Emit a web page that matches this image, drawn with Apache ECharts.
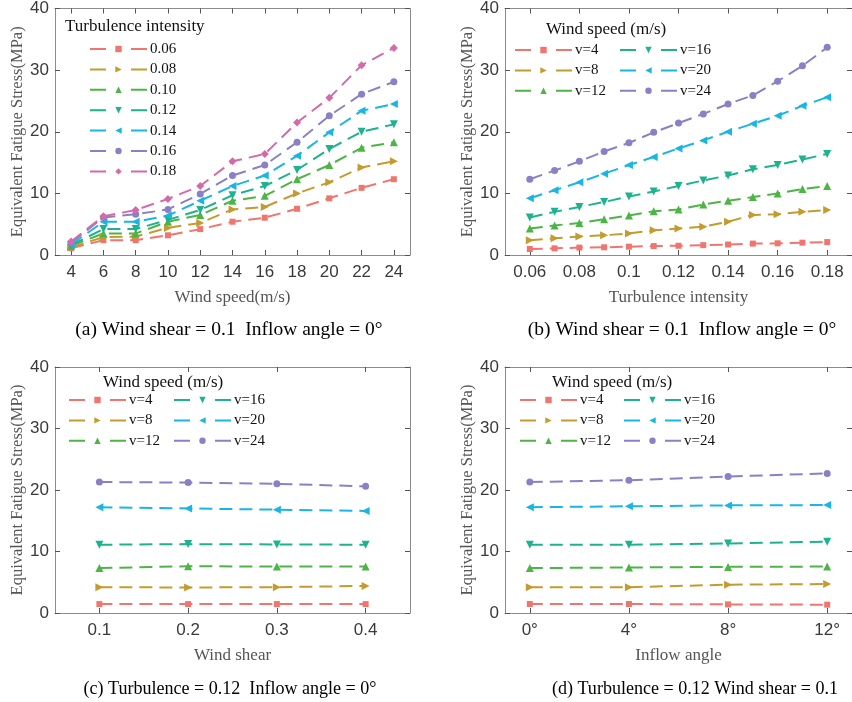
<!DOCTYPE html>
<html><head><meta charset="utf-8">
<script src="https://cdn.jsdelivr.net/npm/echarts@6/dist/echarts.min.js"></script>
<style>html,body{margin:0;padding:0;background:#fff}#c{width:852px;height:702px}</style>
</head><body><div id="c"></div>
<script>
// ---------- data ----------
const windSpeeds = [4, 6, 8, 10, 12, 14, 16, 18, 20, 22, 24];
const tiNames = ['0.06', '0.08', '0.10', '0.12', '0.14', '0.16', '0.18'];
const aTI006 = [1.1, 2.4, 2.4, 3.2, 4.2, 5.4, 6.05, 7.5, 9.2, 10.9, 12.3];
const aTI008 = [1.25, 2.9, 3.0, 4.4, 5.2, 7.4, 7.8, 10.0, 11.8, 14.2, 15.2];
const aTI010 = [1.5, 3.5, 3.5, 5.4, 6.5, 8.8, 9.6, 12.3, 14.6, 17.4, 18.3];
const aTI012 = [1.6, 4.2, 4.2, 5.7, 7.3, 9.7, 11.2, 13.8, 17.2, 20.0, 21.2];
const aTI014 = [1.7, 5.4, 5.4, 6.4, 8.8, 11.2, 12.9, 16.1, 19.9, 23.4, 24.5];
const aTI016 = [2.0, 6.1, 6.6, 7.4, 9.9, 12.9, 14.6, 18.3, 22.6, 26.1, 28.1];
const aTI018 = [2.2, 6.3, 7.3, 9.1, 11.2, 15.2, 16.4, 21.5, 25.5, 30.8, 33.6];

const turbulence = [0.06, 0.07, 0.08, 0.09, 0.10, 0.11, 0.12, 0.13, 0.14, 0.15, 0.16, 0.17, 0.18];
const vNames = ['v=4', 'v=8', 'v=12', 'v=16', 'v=20', 'v=24'];
const bV4  = [0.97, 1.08, 1.2, 1.25, 1.35, 1.45, 1.5, 1.6, 1.7, 1.85, 1.9, 2.0, 2.1];
const bV8  = [2.4, 2.7, 3.0, 3.2, 3.5, 4.0, 4.3, 4.6, 5.4, 6.5, 6.6, 7.0, 7.3];
const bV12 = [4.3, 4.8, 5.2, 5.8, 6.4, 7.1, 7.4, 8.2, 8.8, 9.4, 10.0, 10.7, 11.2];
const bV16 = [6.1, 7.0, 7.8, 8.6, 9.5, 10.3, 11.2, 12.1, 12.9, 13.9, 14.6, 15.5, 16.4];
const bV20 = [9.2, 10.5, 11.8, 13.2, 14.6, 15.9, 17.3, 18.6, 20.0, 21.3, 22.6, 24.2, 25.6];
const bV24 = [12.3, 13.7, 15.2, 16.8, 18.2, 19.9, 21.4, 22.9, 24.5, 25.9, 28.2, 30.7, 33.7];

const windShear = [0.1, 0.2, 0.3, 0.4];
const cV4  = [1.45, 1.45, 1.45, 1.45];
const cV8  = [4.2, 4.15, 4.2, 4.4];
const cV12 = [7.3, 7.6, 7.55, 7.55];
const cV16 = [11.1, 11.2, 11.15, 11.1];
const cV20 = [17.2, 17.0, 16.8, 16.6];
const cV24 = [21.3, 21.2, 21.0, 20.6];

const inflowAngle = [0, 4, 8, 12];
const dV4  = [1.46, 1.46, 1.4, 1.35];
const dV8  = [4.2, 4.2, 4.6, 4.7];
const dV12 = [7.3, 7.4, 7.5, 7.55];
const dV16 = [11.1, 11.1, 11.3, 11.6];
const dV20 = [17.2, 17.35, 17.5, 17.55];
const dV24 = [21.3, 21.6, 22.2, 22.7];

const yTicks = [0, 10, 20, 30, 40];
const xTicksA = [4, 6, 8, 10, 12, 14, 16, 18, 20, 22, 24];
const xTicksB = [0.06, 0.08, 0.10, 0.12, 0.14, 0.16, 0.18];
const xTicksC = [0.1, 0.2, 0.3, 0.4];
const xTicksD = [0, 4, 8, 12];

// ---------- styles ----------
const colors7 = ['#F0756F', '#C39B2E', '#4DB445', '#1DB38F', '#19B5E5', '#8A80C5', '#D36BAA'];
const symbols7 = [['rect', 0, 6], ['triangle', -90, 8], ['triangle', 0, 8], ['triangle', 180, 8], ['triangle', 90, 8], ['circle', 0, 7], ['diamond', 0, 8]];
const SERIF = '"Liberation Serif","Times New Roman",serif';
const SANS = '"Liberation Sans",Arial,Helvetica,sans-serif';
const AX = '#8c8c8c';

const grids = [
  {left: 55, top: 8, width: 355, height: 247},
  {left: 505, top: 8, width: 356, height: 247},
  {left: 55, top: 367, width: 355, height: 246},
  {left: 505, top: 367, width: 356, height: 246}
];
const xRanges = [[3, 25], [0.05, 0.19], [0.05, 0.45], [-1, 13]];
const xTickSets = [xTicksA, xTicksB, xTicksC, xTicksD];
const xNames = ['Wind speed(m/s)', 'Turbulence intensity', 'Wind shear', 'Inflow angle'];
const xFmt = [v => String(v), v => String(+v.toFixed(2)), v => String(+v.toFixed(1)), v => v + '°'];

const xAxes = [], yAxes = [], series = [];
grids.forEach((g, i) => {
  xAxes.push({
    type: 'value', gridIndex: i, position: 'bottom', min: xRanges[i][0], max: xRanges[i][1],
    name: xNames[i], nameLocation: 'middle', nameGap: 34,
    nameTextStyle: {fontFamily: SERIF, fontSize: 17, color: '#555'},
    axisLine: {show: true, onZero: false, lineStyle: {color: AX}},
    axisTick: {show: true, inside: true, length: 5, lineStyle: {color: '#555'}, customValues: xTickSets[i]},
    axisLabel: {show: true, margin: 9, fontFamily: SANS, fontSize: 17, color: '#3a3a3a', customValues: xTickSets[i], formatter: xFmt[i]},
    splitLine: {show: false}
  });
  xAxes.push({
    type: 'value', gridIndex: i, position: 'top', min: xRanges[i][0], max: xRanges[i][1],
    axisLine: {show: true, onZero: false, lineStyle: {color: AX}},
    axisTick: {show: true, inside: true, length: 5, lineStyle: {color: '#555'}, customValues: xTickSets[i]},
    axisLabel: {show: false}, splitLine: {show: false}
  });
  yAxes.push({
    type: 'value', gridIndex: i, position: 'left', min: 0, max: 40, interval: 10,
    name: 'Equivalent Fatigue Stress(MPa)', nameLocation: 'middle', nameGap: 26,
    nameTextStyle: {fontFamily: SERIF, fontSize: 16.5, color: '#555'},
    axisLine: {show: true, onZero: false, lineStyle: {color: AX}},
    axisTick: {show: true, inside: true, length: 5, lineStyle: {color: '#555'}},
    axisLabel: {show: true, margin: 6, fontFamily: SANS, fontSize: 17, color: '#3a3a3a'},
    splitLine: {show: false}
  });
  yAxes.push({
    type: 'value', gridIndex: i, position: 'right', min: 0, max: 40, interval: 10,
    axisLine: {show: true, onZero: false, lineStyle: {color: AX}},
    axisTick: {show: true, inside: true, length: 5, lineStyle: {color: '#555'}},
    axisLabel: {show: false}, splitLine: {show: false}
  });
});

function mk(name, xs, ys, k, gi) {
  const s = symbols7[k];
  return {
    type: 'line', name: name, xAxisIndex: 2 * gi, yAxisIndex: 2 * gi,
    data: xs.map((x, j) => [x, ys[j]]),
    symbol: s[0], symbolRotate: s[1], symbolSize: s[2], showSymbol: true,
    itemStyle: {color: colors7[k]},
    lineStyle: {color: colors7[k], width: 2, type: [13, 7]},
    animation: false, z: 3
  };
}
const aSets = [aTI006, aTI008, aTI010, aTI012, aTI014, aTI016, aTI018];
aSets.forEach((d, k) => series.push(mk(tiNames[k], windSpeeds, d, k, 0)));
[bV4, bV8, bV12, bV16, bV20, bV24].forEach((d, k) => series.push(mk(vNames[k], turbulence, d, k, 1)));
[cV4, cV8, cV12, cV16, cV20, cV24].forEach((d, k) => series.push(mk(vNames[k], windShear, d, k, 2)));
[dV4, dV8, dV12, dV16, dV20, dV24].forEach((d, k) => series.push(mk(vNames[k], inflowAngle, d, k, 3)));

function legend(left, top, data) {
  return {
    show: true, orient: 'vertical', left: left, top: top, data: data,
    itemWidth: 57, itemHeight: 8, itemGap: 5.4, padding: 0,
    selectedMode: false,
    lineStyle: {type: [16, 25], width: 2},
    textStyle: {fontFamily: SERIF, fontSize: 15, lineHeight: 15, color: '#111', padding: [0, 0, 0, -2]}
  };
}
const legends = [
  legend(89, 41.5, tiNames),
  legend(514, 42.5, vNames.slice(0, 3)), legend(619, 42.5, vNames.slice(3)),
  legend(68, 392.5, vNames.slice(0, 3)), legend(173, 392.5, vNames.slice(3)),
  legend(519, 392.5, vNames.slice(0, 3)), legend(623, 392.5, vNames.slice(3))
];

function txt(x, y, s, size, color, align, sx) {
  return {type: 'text', x: x, y: y, z: 10, scaleX: sx || 1,
    style: {text: s, fontFamily: SERIF, fontSize: size, fill: color, textAlign: align || 'left', textVerticalAlign: 'middle'}};
}
const graphics = [
  txt(65, 27, 'Turbulence intensity', 17, '#111'),
  txt(546, 30, 'Wind speed (m/s)', 17, '#111'),
  txt(103, 383, 'Wind speed (m/s)', 17, '#111'),
  txt(552, 383, 'Wind speed (m/s)', 17, '#111'),
  txt(229, 330, '(a) Wind shear = 0.1  Inflow angle = 0°', 19.5, '#000', 'center'),
  txt(682, 330, '(b) Wind shear = 0.1  Inflow angle = 0°', 19.5, '#000', 'center'),
  txt(230, 689, '(c) Turbulence = 0.12  Inflow angle = 0°', 19, '#000', 'center', 0.95),
  txt(695, 689, '(d) Turbulence = 0.12 Wind shear = 0.1', 19, '#000', 'center', 0.95)
];

const chart = echarts.init(document.getElementById('c'), null, {renderer: 'canvas'});
chart.setOption({
  backgroundColor: '#fff',
  animation: false,
  grid: grids,
  xAxis: xAxes,
  yAxis: yAxes,
  legend: legends,
  series: series,
  graphic: graphics
});
</script>
</body></html>
